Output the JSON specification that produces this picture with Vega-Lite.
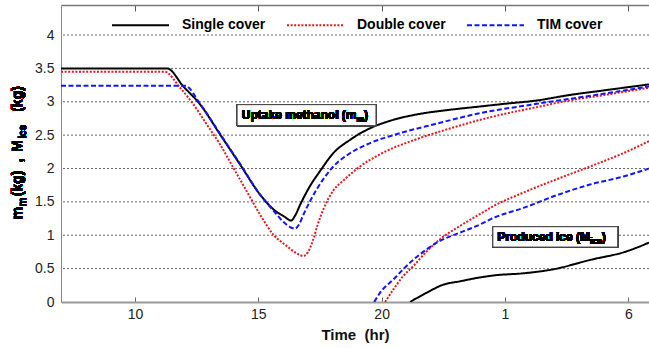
{
  "$schema": "https://vega.github.io/schema/vega-lite/v6.json",
  "width": 588,
  "height": 297,
  "autosize": {"type": "none"},
  "padding": {"left": 61, "top": 5, "right": 0, "bottom": 46},
  "background": "white",
  "config": {
    "view": {"stroke": null},
    "font": "Liberation Sans",
    "legend": {
      "orient": "none",
      "legendX": 50,
      "legendY": -9.5,
      "direction": "horizontal",
      "title": null,
      "symbolType": "stroke",
      "symbolSize": 3249,
      "symbolStrokeWidth": 2,
      "labelFontSize": 14,
      "labelFontWeight": "bold",
      "labelColor": "#000",
      "labelOffset": 12,
      "columnPadding": 17,
      "padding": 0
    }
  },
  "resolve": {"axis": {"x": "independent", "y": "independent"}},
  "datasets": {
    "gridLevels": [
      {"v": 0.5}, {"v": 1}, {"v": 1.5}, {"v": 2}, {"v": 2.5}, {"v": 3}, {"v": 3.5}, {"v": 4}
    ],
    "curves": [
      {"cover": "Single cover", "kind": "uptake", "t": 7, "v": 3.5},
      {"cover": "Single cover", "kind": "uptake", "t": 11.3, "v": 3.5},
      {"cover": "Single cover", "kind": "uptake", "t": 11.96, "v": 3.23},
      {"cover": "Single cover", "kind": "uptake", "t": 12.64, "v": 2.96},
      {"cover": "Single cover", "kind": "uptake", "t": 13.45, "v": 2.51},
      {"cover": "Single cover", "kind": "uptake", "t": 14.26, "v": 2.06},
      {"cover": "Single cover", "kind": "uptake", "t": 15.07, "v": 1.61},
      {"cover": "Single cover", "kind": "uptake", "t": 15.61, "v": 1.39},
      {"cover": "Single cover", "kind": "uptake", "t": 16.05, "v": 1.28},
      {"cover": "Single cover", "kind": "uptake", "t": 16.33, "v": 1.22},
      {"cover": "Single cover", "kind": "uptake", "t": 16.5, "v": 1.3},
      {"cover": "Single cover", "kind": "uptake", "t": 16.7, "v": 1.46},
      {"cover": "Single cover", "kind": "uptake", "t": 17.1, "v": 1.74},
      {"cover": "Single cover", "kind": "uptake", "t": 17.5, "v": 1.96},
      {"cover": "Single cover", "kind": "uptake", "t": 18.04, "v": 2.23},
      {"cover": "Single cover", "kind": "uptake", "t": 18.72, "v": 2.43},
      {"cover": "Single cover", "kind": "uptake", "t": 19.4, "v": 2.58},
      {"cover": "Single cover", "kind": "uptake", "t": 20.48, "v": 2.73},
      {"cover": "Single cover", "kind": "uptake", "t": 21.42, "v": 2.81},
      {"cover": "Single cover", "kind": "uptake", "t": 22.77, "v": 2.88},
      {"cover": "Single cover", "kind": "uptake", "t": 24.0, "v": 2.93},
      {"cover": "Single cover", "kind": "uptake", "t": 25.0, "v": 2.97},
      {"cover": "Single cover", "kind": "uptake", "t": 26.3, "v": 3.02},
      {"cover": "Single cover", "kind": "uptake", "t": 27.6, "v": 3.1},
      {"cover": "Single cover", "kind": "uptake", "t": 29.0, "v": 3.17},
      {"cover": "Single cover", "kind": "uptake", "t": 30.84, "v": 3.26},

      {"cover": "Double cover", "kind": "uptake", "t": 7, "v": 3.45},
      {"cover": "Double cover", "kind": "uptake", "t": 11.2, "v": 3.45},
      {"cover": "Double cover", "kind": "uptake", "t": 11.83, "v": 3.21},
      {"cover": "Double cover", "kind": "uptake", "t": 12.37, "v": 2.96},
      {"cover": "Double cover", "kind": "uptake", "t": 12.91, "v": 2.66},
      {"cover": "Double cover", "kind": "uptake", "t": 13.45, "v": 2.36},
      {"cover": "Double cover", "kind": "uptake", "t": 13.99, "v": 2.01},
      {"cover": "Double cover", "kind": "uptake", "t": 14.53, "v": 1.66},
      {"cover": "Double cover", "kind": "uptake", "t": 15.07, "v": 1.31},
      {"cover": "Double cover", "kind": "uptake", "t": 15.61, "v": 1.01},
      {"cover": "Double cover", "kind": "uptake", "t": 16.15, "v": 0.84},
      {"cover": "Double cover", "kind": "uptake", "t": 16.6, "v": 0.72},
      {"cover": "Double cover", "kind": "uptake", "t": 16.83, "v": 0.69},
      {"cover": "Double cover", "kind": "uptake", "t": 17.0, "v": 0.74},
      {"cover": "Double cover", "kind": "uptake", "t": 17.23, "v": 0.94},
      {"cover": "Double cover", "kind": "uptake", "t": 17.4, "v": 1.15},
      {"cover": "Double cover", "kind": "uptake", "t": 17.64, "v": 1.39},
      {"cover": "Double cover", "kind": "uptake", "t": 18.04, "v": 1.67},
      {"cover": "Double cover", "kind": "uptake", "t": 18.45, "v": 1.82},
      {"cover": "Double cover", "kind": "uptake", "t": 19.12, "v": 2.03},
      {"cover": "Double cover", "kind": "uptake", "t": 20.07, "v": 2.24},
      {"cover": "Double cover", "kind": "uptake", "t": 21.42, "v": 2.44},
      {"cover": "Double cover", "kind": "uptake", "t": 22.77, "v": 2.6},
      {"cover": "Double cover", "kind": "uptake", "t": 24.0, "v": 2.73},
      {"cover": "Double cover", "kind": "uptake", "t": 25.0, "v": 2.82},
      {"cover": "Double cover", "kind": "uptake", "t": 26.3, "v": 2.92},
      {"cover": "Double cover", "kind": "uptake", "t": 27.6, "v": 3.02},
      {"cover": "Double cover", "kind": "uptake", "t": 29.0, "v": 3.1},
      {"cover": "Double cover", "kind": "uptake", "t": 30.84, "v": 3.21},

      {"cover": "TIM cover", "kind": "uptake", "t": 7, "v": 3.24},
      {"cover": "TIM cover", "kind": "uptake", "t": 12.03, "v": 3.24},
      {"cover": "TIM cover", "kind": "uptake", "t": 12.64, "v": 2.97},
      {"cover": "TIM cover", "kind": "uptake", "t": 13.45, "v": 2.52},
      {"cover": "TIM cover", "kind": "uptake", "t": 14.26, "v": 2.07},
      {"cover": "TIM cover", "kind": "uptake", "t": 15.07, "v": 1.61},
      {"cover": "TIM cover", "kind": "uptake", "t": 15.61, "v": 1.37},
      {"cover": "TIM cover", "kind": "uptake", "t": 16.02, "v": 1.2},
      {"cover": "TIM cover", "kind": "uptake", "t": 16.3, "v": 1.12},
      {"cover": "TIM cover", "kind": "uptake", "t": 16.49, "v": 1.1},
      {"cover": "TIM cover", "kind": "uptake", "t": 16.65, "v": 1.16},
      {"cover": "TIM cover", "kind": "uptake", "t": 16.83, "v": 1.31},
      {"cover": "TIM cover", "kind": "uptake", "t": 16.96, "v": 1.41},
      {"cover": "TIM cover", "kind": "uptake", "t": 17.37, "v": 1.69},
      {"cover": "TIM cover", "kind": "uptake", "t": 18.04, "v": 2.03},
      {"cover": "TIM cover", "kind": "uptake", "t": 18.72, "v": 2.23},
      {"cover": "TIM cover", "kind": "uptake", "t": 19.4, "v": 2.36},
      {"cover": "TIM cover", "kind": "uptake", "t": 20.75, "v": 2.53},
      {"cover": "TIM cover", "kind": "uptake", "t": 22.1, "v": 2.66},
      {"cover": "TIM cover", "kind": "uptake", "t": 24.0, "v": 2.83},
      {"cover": "TIM cover", "kind": "uptake", "t": 26.3, "v": 2.97},
      {"cover": "TIM cover", "kind": "uptake", "t": 29.0, "v": 3.12},
      {"cover": "TIM cover", "kind": "uptake", "t": 30.84, "v": 3.23},

      {"cover": "Single cover", "kind": "ice", "t": 21.15, "v": 0},
      {"cover": "Single cover", "kind": "ice", "t": 21.83, "v": 0.14},
      {"cover": "Single cover", "kind": "ice", "t": 22.5, "v": 0.26},
      {"cover": "Single cover", "kind": "ice", "t": 23.18, "v": 0.31},
      {"cover": "Single cover", "kind": "ice", "t": 23.86, "v": 0.36},
      {"cover": "Single cover", "kind": "ice", "t": 24.6, "v": 0.4},
      {"cover": "Single cover", "kind": "ice", "t": 25.75, "v": 0.43},
      {"cover": "Single cover", "kind": "ice", "t": 26.96, "v": 0.49},
      {"cover": "Single cover", "kind": "ice", "t": 28.45, "v": 0.63},
      {"cover": "Single cover", "kind": "ice", "t": 29.94, "v": 0.76},
      {"cover": "Single cover", "kind": "ice", "t": 30.84, "v": 0.89},

      {"cover": "Double cover", "kind": "ice", "t": 20.14, "v": 0},
      {"cover": "Double cover", "kind": "ice", "t": 20.48, "v": 0.19},
      {"cover": "Double cover", "kind": "ice", "t": 20.88, "v": 0.39},
      {"cover": "Double cover", "kind": "ice", "t": 21.29, "v": 0.54},
      {"cover": "Double cover", "kind": "ice", "t": 21.83, "v": 0.76},
      {"cover": "Double cover", "kind": "ice", "t": 22.37, "v": 0.94},
      {"cover": "Double cover", "kind": "ice", "t": 23.18, "v": 1.14},
      {"cover": "Double cover", "kind": "ice", "t": 23.86, "v": 1.29},
      {"cover": "Double cover", "kind": "ice", "t": 24.6, "v": 1.45},
      {"cover": "Double cover", "kind": "ice", "t": 25.75, "v": 1.64},
      {"cover": "Double cover", "kind": "ice", "t": 27.1, "v": 1.84},
      {"cover": "Double cover", "kind": "ice", "t": 28.45, "v": 2.03},
      {"cover": "Double cover", "kind": "ice", "t": 29.8, "v": 2.23},
      {"cover": "Double cover", "kind": "ice", "t": 30.84, "v": 2.41},

      {"cover": "TIM cover", "kind": "ice", "t": 19.7, "v": 0},
      {"cover": "TIM cover", "kind": "ice", "t": 19.94, "v": 0.14},
      {"cover": "TIM cover", "kind": "ice", "t": 20.48, "v": 0.34},
      {"cover": "TIM cover", "kind": "ice", "t": 21.15, "v": 0.59},
      {"cover": "TIM cover", "kind": "ice", "t": 21.83, "v": 0.79},
      {"cover": "TIM cover", "kind": "ice", "t": 22.24, "v": 0.89},
      {"cover": "TIM cover", "kind": "ice", "t": 23.18, "v": 1.04},
      {"cover": "TIM cover", "kind": "ice", "t": 23.86, "v": 1.14},
      {"cover": "TIM cover", "kind": "ice", "t": 24.6, "v": 1.27},
      {"cover": "TIM cover", "kind": "ice", "t": 25.75, "v": 1.41},
      {"cover": "TIM cover", "kind": "ice", "t": 27.1, "v": 1.6},
      {"cover": "TIM cover", "kind": "ice", "t": 28.45, "v": 1.76},
      {"cover": "TIM cover", "kind": "ice", "t": 29.8, "v": 1.88},
      {"cover": "TIM cover", "kind": "ice", "t": 30.84, "v": 2.0}
    ]
  },
  "data": {"name": "curves"},
  "layer": [
    {
      "data": {"name": "gridLevels"},
      "mark": {"type": "rule", "stroke": "#555", "strokeWidth": 0.9, "strokeDash": [2, 2]},
      "encoding": {
        "y": {"field": "v", "type": "quantitative", "axis": null}
      }
    },
    {
      "mark": {"type": "line", "strokeWidth": 2, "interpolate": "monotone", "clip": true},
      "encoding": {
        "x": {
          "field": "t",
          "type": "quantitative",
          "scale": {"domain": [7, 30.84], "nice": false, "zero": false},
          "axis": {
            "orient": "bottom",
            "values": [10, 15, 20, 25, 30],
            "labelExpr": "datum.value > 24 ? datum.value - 24 : datum.value",
            "title": "Time \u00a0(hr)",
            "titleFontSize": 15,
            "titleFontWeight": "bold",
            "titleColor": "#111",
            "titlePadding": 6,
            "labelFontSize": 14,
            "labelColor": "#222",
            "labelPadding": 10,
            "tickSize": -5,
            "tickColor": "#666",
            "domainColor": "#999",
            "domainWidth": 2,
            "grid": false
          }
        },
        "y": {
          "field": "v",
          "type": "quantitative",
          "scale": {"domain": [0, 4.45], "nice": false},
          "axis": {
            "orient": "left",
            "values": [0, 0.5, 1, 1.5, 2, 2.5, 3, 3.5, 4],
            "format": "~g",
            "title": null,
            "labelFontSize": 14,
            "labelColor": "#222",
            "labelPadding": 7,
            "labelOverlap": false,
            "ticks": false,
            "domainColor": "#888",
            "domainWidth": 1,
            "grid": false
          }
        },
        "color": {
          "field": "cover",
          "type": "nominal",
          "scale": {"domain": ["Single cover", "Double cover", "TIM cover"], "range": ["#000000", "#e8141c", "#1414ff"]}
        },
        "strokeDash": {
          "field": "cover",
          "type": "nominal",
          "scale": {"domain": ["Single cover", "Double cover", "TIM cover"], "range": [[1, 0], [2, 1.6], [5, 2.5]]}
        },
        "detail": {"field": "kind"}
      }
    },
    {
      "mark": {"type": "rect", "fill": "white", "stroke": "#444", "strokeWidth": 1},
      "encoding": {
        "x": {
          "datum": 14.14,
          "type": "quantitative",
          "axis": {
            "orient": "top",
            "values": [10, 15, 20, 25, 30],
            "labels": false,
            "title": null,
            "tickSize": -6,
            "tickColor": "#555",
            "domainColor": "#777",
            "domainWidth": 1.5,
            "grid": false
          }
        },
        "x2": {"datum": 19.77},
        "y": {"datum": 2.957, "type": "quantitative", "axis": null},
        "y2": {"datum": 2.643}
      }
    },
    {
      "mark": {"type": "rect", "fill": "white", "stroke": "#444", "strokeWidth": 1},
      "encoding": {
        "x": {"datum": 24.51, "type": "quantitative", "axis": null},
        "x2": {"datum": 29.57},
        "y": {"datum": 1.128, "type": "quantitative", "axis": null},
        "y2": {"datum": 0.823}
      }
    },
    {
      "mark": {"type": "text", "align": "left", "baseline": "middle", "fontSize": 12, "fontWeight": "bold", "color": "#000"},
      "encoding": {
        "x": {"datum": 14.33, "type": "quantitative", "axis": null},
        "y": {"datum": 2.8, "type": "quantitative", "axis": null},
        "text": {"value": "Uptake methanol (m"}
      }
    },
    {
      "mark": {"type": "text", "align": "left", "baseline": "middle", "fontSize": 8.5, "fontWeight": "bold", "color": "#000", "dx": 114.7, "dy": 4},
      "encoding": {
        "x": {"datum": 14.33, "type": "quantitative", "axis": null},
        "y": {"datum": 2.8, "type": "quantitative", "axis": null},
        "text": {"value": "m"}
      }
    },
    {
      "mark": {"type": "text", "align": "left", "baseline": "middle", "fontSize": 12, "fontWeight": "bold", "color": "#000", "dx": 122.3},
      "encoding": {
        "x": {"datum": 14.33, "type": "quantitative", "axis": null},
        "y": {"datum": 2.8, "type": "quantitative", "axis": null},
        "text": {"value": ")"}
      }
    },
    {
      "mark": {"type": "text", "align": "left", "baseline": "middle", "fontSize": 12, "fontWeight": "bold", "color": "#000"},
      "encoding": {
        "x": {"datum": 24.69, "type": "quantitative", "axis": null},
        "y": {"datum": 0.968, "type": "quantitative", "axis": null},
        "text": {"value": "Produced ice (M"}
      }
    },
    {
      "mark": {"type": "text", "align": "left", "baseline": "middle", "fontSize": 8.5, "fontWeight": "bold", "color": "#000", "dx": 92.7, "dy": 4},
      "encoding": {
        "x": {"datum": 24.69, "type": "quantitative", "axis": null},
        "y": {"datum": 0.968, "type": "quantitative", "axis": null},
        "text": {"value": "ice"}
      }
    },
    {
      "mark": {"type": "text", "align": "left", "baseline": "middle", "fontSize": 12, "fontWeight": "bold", "color": "#000", "dx": 104.5},
      "encoding": {
        "x": {"datum": 24.69, "type": "quantitative", "axis": null},
        "y": {"datum": 0.968, "type": "quantitative", "axis": null},
        "text": {"value": ")"}
      }
    },
    {
      "mark": {"type": "text", "align": "left", "baseline": "alphabetic", "angle": 270, "fontSize": 14, "fontWeight": "bold", "color": "#000", "dx": 82.7, "dy": -39},
      "encoding": {
        "x": {"datum": 7, "type": "quantitative", "axis": null},
        "y": {"datum": 0, "type": "quantitative", "axis": null},
        "text": {"value": "m"}
      }
    },
    {
      "mark": {"type": "text", "align": "left", "baseline": "alphabetic", "angle": 270, "fontSize": 10, "fontWeight": "bold", "color": "#000", "dx": 95.7, "dy": -35},
      "encoding": {
        "x": {"datum": 7, "type": "quantitative", "axis": null},
        "y": {"datum": 0, "type": "quantitative", "axis": null},
        "text": {"value": "m"}
      }
    },
    {
      "mark": {"type": "text", "align": "left", "baseline": "alphabetic", "angle": 270, "fontSize": 14, "fontWeight": "bold", "color": "#000", "dx": 105.7, "dy": -39},
      "encoding": {
        "x": {"datum": 7, "type": "quantitative", "axis": null},
        "y": {"datum": 0, "type": "quantitative", "axis": null},
        "text": {"value": "(kg)"}
      }
    },
    {
      "mark": {"type": "text", "align": "left", "baseline": "alphabetic", "angle": 270, "fontSize": 14, "fontWeight": "bold", "color": "#000", "dx": 139.7, "dy": -39},
      "encoding": {
        "x": {"datum": 7, "type": "quantitative", "axis": null},
        "y": {"datum": 0, "type": "quantitative", "axis": null},
        "text": {"value": ","}
      }
    },
    {
      "mark": {"type": "text", "align": "left", "baseline": "alphabetic", "angle": 270, "fontSize": 14, "fontWeight": "bold", "color": "#000", "dx": 150.2, "dy": -39},
      "encoding": {
        "x": {"datum": 7, "type": "quantitative", "axis": null},
        "y": {"datum": 0, "type": "quantitative", "axis": null},
        "text": {"value": "M"}
      }
    },
    {
      "mark": {"type": "text", "align": "left", "baseline": "alphabetic", "angle": 270, "fontSize": 10, "fontWeight": "bold", "color": "#000", "dx": 163.2, "dy": -35},
      "encoding": {
        "x": {"datum": 7, "type": "quantitative", "axis": null},
        "y": {"datum": 0, "type": "quantitative", "axis": null},
        "text": {"value": "ice"}
      }
    },
    {
      "mark": {"type": "text", "align": "left", "baseline": "alphabetic", "angle": 270, "fontSize": 14, "fontWeight": "bold", "color": "#000", "dx": 190.2, "dy": -39},
      "encoding": {
        "x": {"datum": 7, "type": "quantitative", "axis": null},
        "y": {"datum": 0, "type": "quantitative", "axis": null},
        "text": {"value": "(kg)"}
      }
    }
  ]
}
